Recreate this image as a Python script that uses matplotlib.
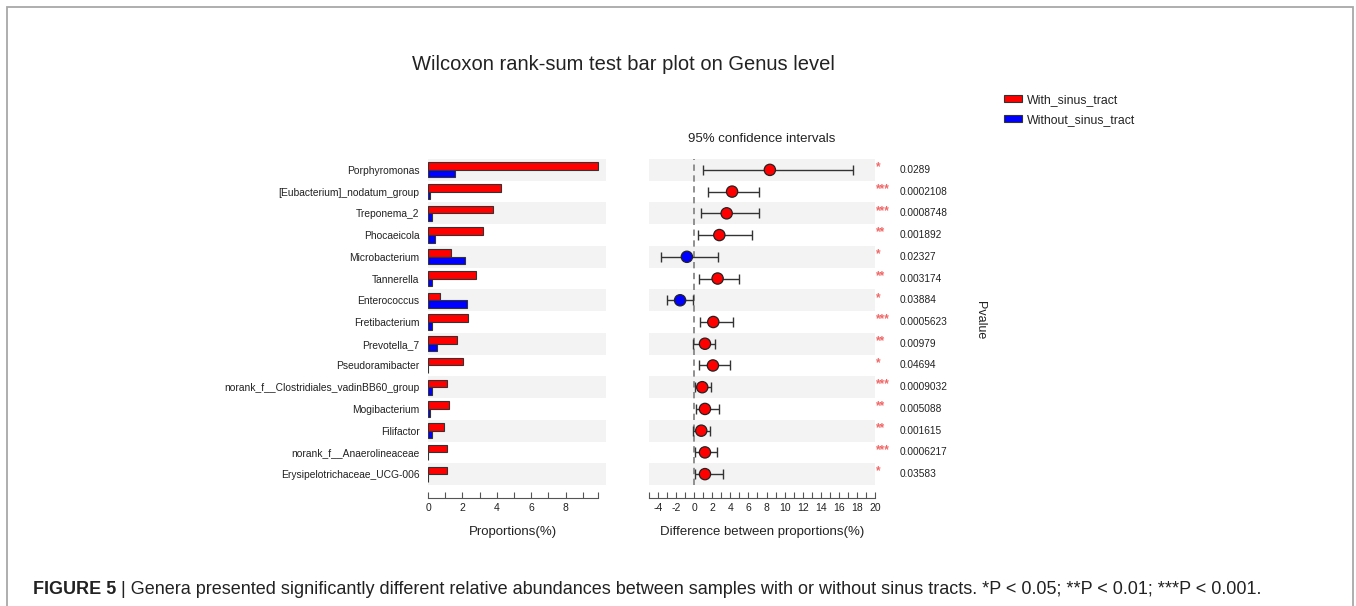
import matplotlib
matplotlib.use("Agg")
import matplotlib.pyplot as plt
from matplotlib.patches import Patch, Rectangle
from matplotlib.ticker import FixedLocator
import numpy as np

plt.rcParams['font.family'] = ['Liberation Sans', 'DejaVu Sans']
plt.rcParams['axes.unicode_minus'] = False

# ---- data -------------------------------------------------------------
genera = [
    "Porphyromonas", "[Eubacterium]_nodatum_group", "Treponema_2", "Phocaeicola",
    "Microbacterium", "Tannerella", "Enterococcus", "Fretibacterium", "Prevotella_7",
    "Pseudoramibacter", "norank_f__Clostridiales_vadinBB60_group", "Mogibacterium",
    "Filifactor", "norank_f__Anaerolineaceae", "Erysipelotrichaceae_UCG-006",
]
with_sinus = [9.87, 4.26, 3.76, 3.20, 1.36, 2.79, 0.70, 2.31, 1.66, 2.02, 1.12, 1.24, 0.95, 1.12, 1.12]
without_sinus = [1.57, 0.14, 0.25, 0.43, 2.17, 0.21, 2.25, 0.23, 0.51, 0.02, 0.21, 0.10, 0.21, 0.01, 0.01]
diff = [8.37, 4.19, 3.59, 2.78, -0.81, 2.59, -1.56, 2.11, 1.19, 2.07, 0.89, 1.19, 0.78, 1.19, 1.19]
ci_low = [1.00, 1.56, 0.78, 0.41, -3.67, 0.56, -3.00, 0.63, -0.15, 0.56, 0.07, 0.15, -0.15, 0.07, 0.04]
ci_high = [17.6, 7.15, 7.15, 6.37, 2.59, 5.00, -0.15, 4.30, 2.26, 3.96, 1.81, 2.74, 1.74, 2.52, 3.22]
pvalues = ["0.0289", "0.0002108", "0.0008748", "0.001892", "0.02327", "0.003174", "0.03884",
           "0.0005623", "0.00979", "0.04694", "0.0009032", "0.005088", "0.001615", "0.0006217",
           "0.03583"]
groups = ["With_sinus_tract", "Without_sinus_tract"]

RED, BLUE = "#ff0000", "#0000ff"
BAND = "#f3f3f3"
EDGE = "#333333"
TXT = "#222222"

W, H = 1356, 606
fig = plt.figure(figsize=(W / 100, H / 100), dpi=100)


def fx(px):
    return px / W


def fy(py):
    return 1 - py / H


n = len(genera)
rows = np.arange(n)

top, bottom = 159, 485
ax1 = fig.add_axes([fx(428), fy(bottom), fx(606) - fx(428), fy(top) - fy(bottom)])
ax2 = fig.add_axes([fx(649), fy(bottom), fx(875) - fx(649), fy(top) - fy(bottom)])

for ax in (ax1, ax2):
    ax.set_ylim(n - 0.5, -0.5)
    for i in rows[::2]:
        ax.axhspan(i - 0.5, i + 0.5, color=BAND, zorder=0, lw=0)
    for s in ("top", "left", "right"):
        ax.spines[s].set_visible(False)
    ax.spines["bottom"].set_position(("outward", 9))
    ax.spines["bottom"].set_color("#555555")
    ax.tick_params(axis="y", length=0)
    ax.tick_params(axis="x", which="both", direction="in", length=4, width=0.8,
                   color="#555555", labelsize=7.5, labelcolor=TXT, pad=4)

# ---- left: proportions ------------------------------------------------
bh = 0.35
ax1.barh(rows - bh / 2, with_sinus, height=bh, color=RED, edgecolor=EDGE, lw=0.8, zorder=2)
ax1.barh(rows + bh / 2, without_sinus, height=bh, color=BLUE, edgecolor=EDGE, lw=0.8, zorder=2)
pmax = max(with_sinus)
ax1.set_xlim(0, 10.35)
ax1.spines["bottom"].set_bounds(0, pmax)
ax1.xaxis.set_major_locator(FixedLocator(np.arange(0, 10, 1)))
ax1.set_xticklabels([str(int(v)) if v % 2 == 0 else "" for v in np.arange(0, 10, 1)])
ax1.xaxis.set_minor_locator(FixedLocator([pmax]))
ax1.set_yticks(rows)
ax1.set_yticklabels(genera, fontsize=7.4, color=TXT)
ax1.tick_params(axis="y", pad=6)
ax1.set_xlabel("Proportions(%)", fontsize=9.5, color=TXT)
ax1.xaxis.set_label_coords(pmax / 2 / 10.35, -0.125)

# ---- right: difference with 95% CI ------------------------------------
ax2.set_xlim(-5, 20)
ax2.axvline(0, color="#888888", lw=1.3, ls=(0, (3.5, 2.5)), zorder=1)
colors = [RED if d > 0 else BLUE for d in diff]
xerr = np.array([[d - lo for d, lo in zip(diff, ci_low)],
                 [hi - d for d, hi in zip(diff, ci_high)]])
ax2.errorbar(diff, rows, xerr=xerr, fmt="none", ecolor="#333333", elinewidth=1.0,
             capsize=3.8, capthick=1.0, zorder=2)
ax2.scatter(diff, rows, s=66, c=colors, edgecolors="#222222", linewidths=0.9, zorder=3)
ax2.xaxis.set_major_locator(FixedLocator(np.arange(-4, 21, 2)))
ax2.xaxis.set_minor_locator(FixedLocator(np.arange(-5, 21, 2)))
ax2.set_yticks([])
ax2.set_title("95% confidence intervals", fontsize=9.5, color=TXT, pad=12)
ax2.set_xlabel("Difference between proportions(%)", fontsize=9.5, color=TXT)
ax2.xaxis.set_label_coords(0.5, -0.125)


def stars(p):
    v = float(p)
    return "***" if v < 0.001 else ("**" if v < 0.01 else "*")


ytr = ax2.get_yaxis_transform()
for i, p in enumerate(pvalues):
    ax2.text(1.005, i - 0.12, stars(p), transform=ytr, ha="left", va="center",
             fontsize=8.5, color="#f26565", fontweight="bold")
    ax2.text(1.111, i, p, transform=ytr, ha="left", va="center", fontsize=7.3, color=TXT)

fig.text(fx(980), fy(320), "Pvalue", rotation=270, ha="center", va="center",
         fontsize=9, color=TXT)

# ---- title, legend ----------------------------------------------------
fig.text(fx(623), fy(65), "Wilcoxon rank-sum test bar plot on Genus level",
         ha="center", va="center", fontsize=14.5, color=TXT)

handles = [Patch(facecolor=RED, edgecolor=EDGE, lw=0.8),
           Patch(facecolor=BLUE, edgecolor=EDGE, lw=0.8)]
fig.legend(handles, groups, loc="upper left", bbox_to_anchor=(fx(1004), fy(94)),
           frameon=False, fontsize=8.8, handlelength=1.5, handleheight=0.55,
           handletextpad=0.4, labelspacing=0.65, borderpad=0, borderaxespad=0,
           labelcolor=TXT)

# ---- frame and caption ------------------------------------------------
fig.patches.append(Rectangle((fx(7), -0.1), fx(1353) - fx(7), fy(6.5) + 0.1,
                             transform=fig.transFigure, fill=False,
                             edgecolor="#a8a8a8", lw=1.3))

cap_bold = "FIGURE 5"
cap_rest = " | Genera presented significantly different relative abundances between samples with or without sinus tracts. *P < 0.05; **P < 0.01; ***P < 0.001."
cap_fs = 11.5
renderer = fig.canvas.get_renderer()
tb = fig.text(fx(33), fy(589), cap_bold, ha="left", va="center", fontsize=cap_fs,
              fontweight="bold", color=TXT)
bb = tb.get_window_extent(renderer)
tr = fig.text(bb.x1 / W, fy(589), cap_rest, ha="left", va="center", fontsize=cap_fs,
              color=TXT)
total = tr.get_window_extent(renderer).x1 - bb.x0
scale = (1262 - 33) / total
tb.set_fontsize(cap_fs * scale)
tr.set_fontsize(cap_fs * scale)
bb = tb.get_window_extent(renderer)
tr.set_x(bb.x1 / W)

fig.savefig("out.png", dpi=100, facecolor="white")
